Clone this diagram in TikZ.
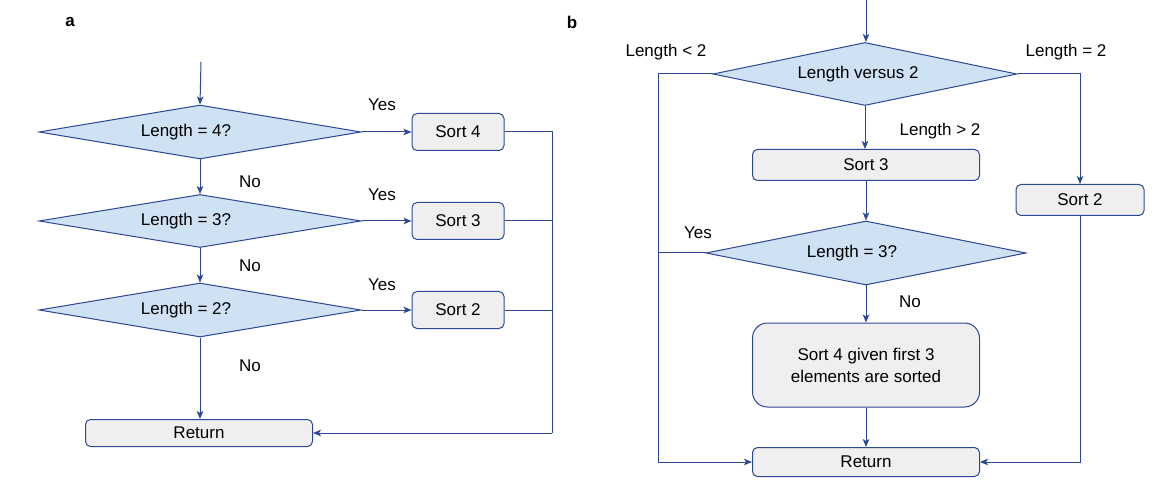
\documentclass[tikz,border=0pt]{standalone}
\usepackage{fontspec}
\setmainfont{Liberation Sans}
\usetikzlibrary{shapes.geometric,arrows.meta}
\definecolor{lnblue}{HTML}{2C4796}
\definecolor{dfill}{HTML}{CFE2F3}
\definecolor{bfill}{HTML}{EFEFEF}
\tikzset{
  every node/.style={font=\fontsize{17}{22}\selectfont, text=black},
  dec/.style={diamond, draw=lnblue, fill=dfill, line width=1pt, aspect=5, inner sep=1pt},
  box/.style={rectangle, draw=lnblue, fill=bfill, line width=1pt, rounded corners=5pt, inner sep=0pt},
  conn/.style={draw=lnblue, line width=1pt},
  arr/.style={conn, -{Stealth[length=8pt,width=6.5pt,inset=2pt]}},
  lbl/.style={inner sep=0pt},
  panel/.style={font=\fontsize{17}{20}\selectfont\bfseries, inner sep=0pt}
}
\begin{document}
\begin{tikzpicture}[x=1pt,y=-1pt]
\useasboundingbox (0,0) rectangle (1176,489);
% ---------- panel a ----------
\node[panel] (pa) at (70,22) {a};
\coordinate (ta) at (201,62);
\node[dec, minimum width=322pt, minimum height=54pt, label={[xshift=-14pt, inner sep=0pt]center:Length = 4?}] (d1) at (200,132) {};
\node[dec, minimum width=322pt, minimum height=53pt, label={[xshift=-14pt, inner sep=0pt]center:Length = 3?}] (d2) at (200,221) {};
\node[dec, minimum width=322pt, minimum height=54pt, label={[xshift=-14pt, inner sep=0pt]center:Length = 2?}] (d3) at (200,310) {};
\node[box, minimum width=92pt, minimum height=37pt] (s4) at (458,132) {Sort 4};
\node[box, minimum width=92pt, minimum height=37pt] (s3) at (458,221) {Sort 3};
\node[box, minimum width=92pt, minimum height=37pt] (s2) at (458,310) {Sort 2};
\node[box, minimum width=227pt, minimum height=27pt] (ra) at (199,433) {Return};
\coordinate (jr) at (552,433);
\draw[arr] (ta) -- (d1.north);
\draw[arr] (d1.south) -- (d2.north);
\draw[arr] (d2.south) -- (d3.north);
\draw[arr] (d3.south) -- (d3.south |- ra.north);
\draw[arr] (d1.east) -- (s4.west);
\draw[arr] (d2.east) -- (s3.west);
\draw[arr] (d3.east) -- (s2.west);
\draw[conn] (s4.east) -- (s4.east -| jr) -- (jr);
\draw[conn] (s3.east) -- (s3.east -| jr);
\draw[conn] (s2.east) -- (s2.east -| jr);
\draw[arr] (jr) -- (ra.east);
\node[lbl] (ya1) at (382,105) {Yes};
\node[lbl] (ya2) at (382,195) {Yes};
\node[lbl] (ya3) at (382,285) {Yes};
\node[lbl] (na1) at (250,182) {No};
\node[lbl] (na2) at (250,266) {No};
\node[lbl] (na3) at (250,366) {No};
% ---------- panel b ----------
\node[panel] (pb) at (572,22) {b};
\coordinate (tb) at (866,0);
\node[dec, minimum width=304pt, minimum height=63pt, label={[xshift=-7pt, inner sep=0pt]center:Length versus 2}] (bd1) at (865,74) {};
\node[box, minimum width=227pt, minimum height=31pt] (bs3) at (866,165) {Sort 3};
\node[dec, minimum width=320pt, minimum height=64pt, label={[xshift=-14pt, inner sep=0pt]center:Length = 3?}] (bd2) at (866,253) {};
\node[box, rounded corners=15pt, minimum width=227pt, minimum height=84pt, align=center] (bs4) at (866,365) {Sort 4 given first 3\\elements are sorted};
\node[box, minimum width=227pt, minimum height=29pt] (rb) at (866,462) {Return};
\node[box, minimum width=128pt, minimum height=31pt] (bs2) at (1080,200) {Sort 2};
\coordinate (jl) at (658,462);
\draw[arr] (tb) -- (tb |- bd1.north);
\draw[arr] (bd1.south) -- (bd1.south |- bs3.north);
\draw[arr] (bs3.south) -- (bs3.south |- bd2.north);
\draw[arr] (bd2.south) -- (bd2.south |- bs4.north);
\draw[arr] (bs4.south) -- (bs4.south |- rb.north);
\draw[arr] (bd1.west) -| (jl) -- (rb.west);
\draw[conn] (bd2.west) -- (bd2.west -| jl);
\draw[arr] (bd1.east) -| (bs2.north);
\draw[arr] (bs2.south) |- (rb.east);
\node[lbl] (l1) at (666,52) {Length < 2};
\node[lbl] (l2) at (1066,52) {Length = 2};
\node[lbl] (l3) at (940,131) {Length > 2};
\node[lbl] (yb) at (698,233) {Yes};
\node[lbl] (nb) at (910,302) {No};
\end{tikzpicture}
\end{document}
